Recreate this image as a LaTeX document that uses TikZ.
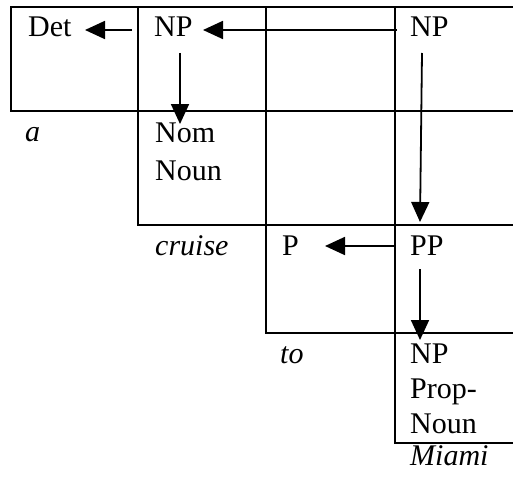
\documentclass[tikz,border=0pt]{standalone}
\usepackage{fontspec}
\setmainfont{Liberation Serif}
\usetikzlibrary{arrows.meta,calc}
\begin{document}
\begin{tikzpicture}[x=1pt,y=-1pt,
  grid/.style={line width=2.6pt,line join=miter,line cap=rect},
  lbl/.style={anchor=base west,inner sep=0pt,font=\fontsize{30}{36}\selectfont},
  word/.style={lbl,font=\fontsize{30}{36}\selectfont\itshape},
  arr/.style={line width=1.8pt,-{Triangle[length=20pt,width=18pt]}}]
\useasboundingbox (0,0) rectangle (513,476);
% table lines
\draw[grid] (513,7) -- (11,7) -- (11,111) -- (138,111) -- (138,225) -- (266,225)
  -- (266,333) -- (395,333) -- (395,443) -- (513,443);
\draw[grid] (138,111) -- (513,111);
\draw[grid] (266,225) -- (513,225);
\draw[grid] (395,333) -- (513,333);
\draw[grid] (138,7) -- (138,111);
\draw[grid] (266,7) -- (266,225);
\draw[grid] (395,7) -- (395,333);
% labels
\node[lbl] (det) at (28,37) {Det};
\node[lbl] (np2) at (154,37) {NP};
\node[lbl] (np4) at (410,37) {NP};
\node[word] (a) at (25,141) {a};
\node[lbl] (nom) at (155,142) {Nom};
\node[lbl] (noun1) at (155,180) {Noun};
\node[word] (cruise) at (155,255) {cruise};
\node[lbl] (p) at (282,255) {P};
\node[lbl] (pp) at (410,255) {PP};
\node[word] (to) at (280,363) {to};
\node[lbl] (np5) at (410,363) {NP};
\node[lbl] (prop) at (410,398) {Prop-};
\node[lbl] (noun2) at (410,433) {Noun};
\node[word] (miami) at (410,465) {Miami};
% arrows
\draw[arr] ($(np2.base west)+(-22,-7)$) -- ($(det.base west)+(57,-7)$);
\draw[arr] ($(np4.base west)+(-13,-7)$) -- ($(np2.base west)+(49,-7)$);
\draw[arr] ($(np2.base west)+(26,16)$) -- ($(nom.base west)+(25,-18)$);
\draw[arr] ($(np4.base west)+(12,16)$) -- ($(pp.base west)+(10,-33)$);
\draw[arr] ($(pp.base west)+(-15,-9)$) -- ($(p.base west)+(43,-9)$);
\draw[arr] ($(pp.base west)+(10,14)$) -- ($(np5.base west)+(10,-23)$);
\end{tikzpicture}
\end{document}
